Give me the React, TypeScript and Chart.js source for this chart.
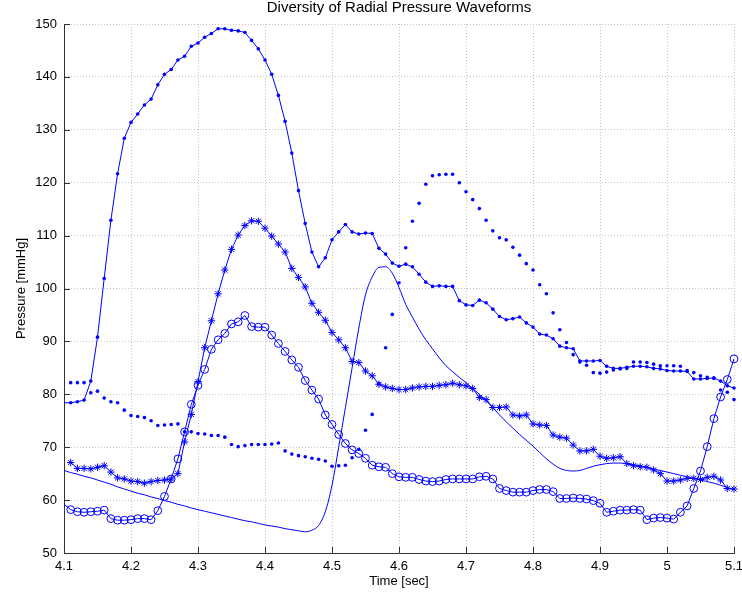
import React, { useEffect, useRef } from "react";
import { Chart, registerables } from "chart.js";

Chart.register(...registerables);

// ---- data -----------------------------------------------------------------
const TITLE = "Diversity of Radial Pressure Waveforms";
const X_LABEL = "Time [sec]";
const Y_LABEL = "Pressure [mmHg]";

// sample times 4.10 ... 5.10 s (10 ms step)
const TIME: number[] = Array.from({ length: 101 }, (_, i) => Math.round((4.1 + i * 0.01) * 100) / 100);

const X_TICKS = [4.1, 4.2, 4.3, 4.4, 4.5, 4.6, 4.7, 4.8, 4.9, 5.0, 5.1];
const Y_TICKS = [50, 60, 70, 80, 90, 100, 110, 120, 130, 140, 150];

// line with dot markers
const WAVE_A: (number | null)[] = [
  78.4, 78.4, 78.6, 78.9, 82.5, 90.8, 101.9, 112.9, 121.7, 128.4,
  131.4, 133.0, 134.7, 135.8, 138.5, 140.5, 141.4, 143.2, 143.9, 145.8,
  146.4, 147.5, 148.2, 149.1, 149.1, 148.8, 148.7, 148.4, 146.9, 145.3,
  143.2, 140.5, 136.5, 131.6, 125.6, 118.5, 112.3, 106.9, 104.1, 105.8,
  109.2, 110.7, 112.1, 110.7, 110.3, 110.5, 110.4, 107.6, 106.5, 104.8,
  104.2, 104.6, 104.1, 102.7, 101.2, 100.4, 100.5, 100.4, 100.4, 97.7,
  96.9, 96.8, 97.8, 97.3, 96.1, 94.7, 94.1, 94.3, 94.6, 93.5,
  92.7, 91.4, 91.2, 90.5, 89.1, 88.8, 88.6, 86.3, 86.3, 86.3,
  86.4, 85.3, 84.9, 84.9, 85.1, 85.3, 85.3, 85.2, 84.9, 84.8,
  84.5, 84.4, 84.4, 84.3, 82.9, 82.9, 83.0, 83.1, 82.5, 81.6,
  81.2,
];

// dots only
const WAVE_B: (number | null)[] = [
  null, 82.2, 82.2, 82.2, 80.3, 80.6, 79.3, 78.6, 78.4, 77.0,
  76.0, 75.8, 75.6, 75.0, 74.1, 74.2, 74.3, 74.4, 72.9, 72.9,
  72.6, 72.5, 72.2, 72.2, 71.9, 70.5, 70.1, 70.3, 70.5, 70.5,
  70.5, 70.6, 70.8, 69.3, 68.7, 68.4, 68.2, 67.9, 67.7, 67.4,
  66.4, 66.5, 66.6, 68.0, 69.6, 73.2, 76.2, 82.0, 88.8, 95.1,
  101.1, 107.7, 112.7, 116.1, 119.7, 121.3, 121.5, 121.6, 121.6, 120.0,
  118.3, 116.8, 115.1, 112.9, 110.9, 109.6, 109.2, 107.8, 106.3, 104.7,
  103.5, 100.7, 99.0, 95.4, 92.2, 89.8, 87.5, 86.1, 85.5, 84.1,
  84.0, 84.2, 84.6, 84.8, 84.9, 86.1, 86.1, 86.0, 85.7, 85.4,
  85.4, 85.4, 85.3, 84.5, 84.1, 83.5, 83.2, 83.0, 80.8, 80.4,
  79.0,
];

// line with asterisks
const WAVE_C: (number | null)[] = [
  null, 67.1, 66.0, 66.0, 65.9, 66.2, 66.5, 65.3, 64.2, 64.0,
  63.6, 63.5, 63.2, 63.5, 63.7, 63.8, 64.0, 65.0, 71.0, 76.2,
  82.4, 88.8, 93.9, 99.0, 103.5, 107.4, 110.1, 111.9, 112.8, 112.7,
  111.4, 109.9, 108.4, 106.9, 103.8, 102.1, 100.3, 97.2, 95.5, 94.0,
  91.7, 90.3, 88.8, 86.2, 86.0, 84.4, 83.5, 81.9, 81.4, 81.1,
  80.9, 80.9, 81.2, 81.4, 81.5, 81.5, 81.7, 81.8, 82.1, 81.8,
  81.6, 81.1, 79.4, 79.0, 77.5, 77.5, 77.6, 76.1, 75.9, 76.1,
  74.4, 74.2, 74.1, 72.3, 71.9, 71.7, 70.4, 69.3, 69.3, 69.6,
  68.3, 67.9, 68.0, 68.2, 66.9, 66.5, 66.3, 66.2, 65.7, 65.0,
  63.6, 63.6, 63.8, 64.1, 64.1, 63.9, 64.3, 64.5, 63.8, 62.2,
  62.1,
];

// line with circles
const WAVE_D: (number | null)[] = [
  59.2, 58.2, 57.8, 57.7, 57.8, 57.9, 58.1, 56.5, 56.2, 56.2,
  56.3, 56.5, 56.5, 56.3, 58.0, 60.7, 64.0, 67.8, 72.9, 78.1,
  81.7, 84.7, 88.5, 90.3, 91.5, 93.3, 93.7, 94.9, 92.8, 92.7,
  92.7, 91.2, 89.6, 88.1, 86.5, 85.1, 82.6, 80.8, 79.1, 76.1,
  74.3, 72.4, 70.7, 69.5, 68.8, 67.9, 66.6, 66.3, 66.2, 65.0,
  64.4, 64.3, 64.3, 63.9, 63.6, 63.5, 63.6, 63.9, 64.0, 64.0,
  64.0, 64.0, 64.4, 64.5, 64.0, 62.2, 61.8, 61.5, 61.5, 61.5,
  61.8, 62.0, 62.0, 61.6, 60.3, 60.3, 60.4, 60.3, 60.2, 59.9,
  59.4, 57.7, 57.9, 58.1, 58.1, 58.2, 58.1, 56.3, 56.6, 56.7,
  56.6, 56.4, 57.7, 58.9, 62.2, 65.5, 70.1, 75.4, 79.5, 82.8,
  86.7,
];

// plain smooth line
const WAVE_E: (number | null)[] = [
  65.6, 65.2, 64.9, 64.5, 64.2, 63.8, 63.4, 63.0, 62.5, 62.1,
  61.7, 61.3, 61.0, 60.6, 60.3, 59.9, 59.6, 59.2, 58.9, 58.5,
  58.2, 57.9, 57.6, 57.3, 57.0, 56.7, 56.4, 56.1, 55.9, 55.6,
  55.3, 55.1, 54.9, 54.6, 54.4, 54.2, 54.0, 54.3, 55.2, 57.8,
  62.8, 70.0, 77.5, 85.0, 92.5, 98.8, 102.2, 104.0, 104.1, 102.9,
  100.2, 97.0, 94.6, 92.3, 90.3, 88.6, 86.9, 85.4, 84.3, 83.2,
  82.2, 81.1, 80.0, 78.8, 77.5, 76.1, 74.8, 73.6, 72.4, 71.3,
  70.2, 69.0, 67.8, 66.8, 66.0, 65.6, 65.5, 65.6, 66.0, 66.4,
  66.7, 66.9, 67.0, 67.0, 66.9, 66.7, 66.5, 66.2, 65.9, 65.6,
  65.3, 65.0, 64.7, 64.4, 64.1, 63.8, 63.5, 63.2, 62.8, 62.4,
  62.0,
];

// ---- styling ----------------------------------------------------------------
const FONT = "'Liberation Sans', Arial, Helvetica, sans-serif";
const BLUE = "#0000ff";
const AXIS = "#333333";
const GRID = "#c4c4c4";

const toPoints = (vals: (number | null)[]) => TIME.map((t, i) => ({ x: t, y: vals[i] }));

const inwardTicks = {
  id: "inwardTicks",
  afterDraw(chart: any) {
    const { ctx, chartArea: a, scales } = chart;
    const x = scales.x;
    const y = scales.y;
    ctx.save();
    ctx.strokeStyle = AXIS;
    ctx.lineWidth = 1;
    ctx.beginPath();
    for (const t of x.ticks) {
      const px = Math.round(x.getPixelForValue(t.value)) + 0.5;
      ctx.moveTo(px, a.bottom);
      ctx.lineTo(px, a.bottom - 6);
    }
    for (const t of y.ticks) {
      const py = Math.round(y.getPixelForValue(t.value)) + 0.5;
      ctx.moveTo(a.left, py);
      ctx.lineTo(a.left + 6, py);
    }
    ctx.stroke();
    ctx.restore();
  },
};

export default function App() {
  const ref = useRef<HTMLCanvasElement | null>(null);

  useEffect(() => {
    document.body.style.margin = "0";
    const canvas = ref.current;
    if (!canvas) return;
    Chart.defaults.font.family = FONT;

    const chart = new Chart(canvas, {
      type: "line",
      data: {
        datasets: [
          {
            label: "A",
            data: toPoints(WAVE_A),
            borderColor: BLUE,
            borderWidth: 1,
            backgroundColor: BLUE,
            pointBackgroundColor: BLUE,
            pointBorderWidth: 0,
            pointStyle: "circle",
            pointRadius: (c: any) => (c.dataIndex === 0 ? 0 : 1.8),
            tension: 0,
            clip: false,
          },
          {
            label: "B",
            data: toPoints(WAVE_B),
            showLine: false,
            borderColor: BLUE,
            backgroundColor: BLUE,
            pointBackgroundColor: BLUE,
            pointBorderWidth: 0,
            pointStyle: "circle",
            pointRadius: 1.8,
            clip: false,
          },
          {
            label: "C",
            data: toPoints(WAVE_C),
            borderColor: BLUE,
            borderWidth: 1,
            pointBorderColor: BLUE,
            pointBackgroundColor: BLUE,
            pointBorderWidth: 1,
            pointStyle: "star",
            pointRadius: 3.7,
            tension: 0,
            clip: false,
          },
          {
            label: "D",
            data: toPoints(WAVE_D),
            borderColor: BLUE,
            borderWidth: 1,
            pointBorderColor: BLUE,
            pointBackgroundColor: "rgba(0,0,0,0)",
            pointBorderWidth: 1,
            pointStyle: "circle",
            pointRadius: (c: any) => (c.dataIndex === 0 ? 0 : 3.9),
            tension: 0,
            clip: false,
          },
          {
            label: "E",
            data: toPoints(WAVE_E),
            borderColor: BLUE,
            borderWidth: 1,
            pointRadius: 0,
            cubicInterpolationMode: "monotone",
            clip: false,
          },
        ],
      },
      options: {
        responsive: false,
        animation: false,
        devicePixelRatio: 1,
        events: [],
        layout: { padding: { left: 0, right: 8, top: 0, bottom: 0 } },
        plugins: {
          legend: { display: false },
          tooltip: { enabled: false },
          title: {
            display: true,
            text: TITLE,
            fullSize: false,
            color: "#000",
            font: { family: FONT, size: 15, weight: "normal", lineHeight: 1.1 },
            padding: { top: 0, bottom: 7.5 },
          },
        },
        scales: {
          x: {
            type: "linear",
            min: 4.1,
            max: 5.1,
            afterBuildTicks: (s: any) => {
              s.ticks = X_TICKS.map((v) => ({ value: v }));
            },
            afterFit: (s: any) => {
              s.height = 46;
              s.paddingLeft = 0;
              s.paddingRight = 0;
            },
            ticks: {
              callback: (v: any) => String(Math.round(Number(v) * 10) / 10),
              color: "#000",
              font: { family: FONT, size: 13 },
              padding: 6,
              maxRotation: 0,
              autoSkip: false,
            },
            grid: { color: GRID, lineWidth: 1, drawTicks: false },
            border: { display: true, color: AXIS, width: 1, dash: [1, 2] },
            title: {
              display: true,
              text: X_LABEL,
              color: "#000",
              font: { family: FONT, size: 13 },
              padding: { top: 0, bottom: 9.7 },
            },
          },
          y: {
            type: "linear",
            min: 50,
            max: 150,
            afterBuildTicks: (s: any) => {
              s.ticks = Y_TICKS.map((v) => ({ value: v }));
            },
            afterFit: (s: any) => {
              s.width = 64;
              s.paddingTop = 0;
              s.paddingBottom = 0;
            },
            ticks: {
              color: "#000",
              font: { family: FONT, size: 13 },
              padding: 7,
              autoSkip: false,
            },
            grid: { color: GRID, lineWidth: 1, drawTicks: false },
            border: { display: true, color: AXIS, width: 1, dash: [1, 2] },
            title: {
              display: true,
              text: Y_LABEL,
              color: "#000",
              font: { family: FONT, size: 13 },
              padding: { top: 14, bottom: 0 },
            },
          },
        },
      },
      plugins: [inwardTicks],
    } as any);

    return () => chart.destroy();
  }, []);

  return (
    <div style={{ width: 742, height: 599, position: "relative" }}>
      <canvas ref={ref} width={742} height={599} style={{ display: "block", width: 742, height: 599 }} />
    </div>
  );
}
